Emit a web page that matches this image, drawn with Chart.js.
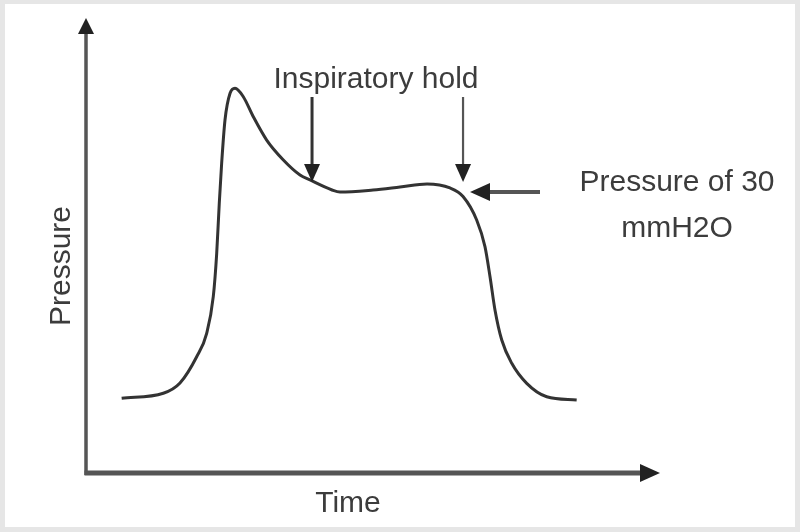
<!DOCTYPE html>
<html>
<head>
<meta charset="utf-8">
<script src="https://cdn.jsdelivr.net/npm/chart.js@4.4.1/dist/chart.umd.min.js"></script>
<style>
html,body{margin:0;padding:0;background:#fff;}
#wrap{width:800px;height:532px;position:relative;}
</style>
</head>
<body>
<div id="wrap"><canvas id="c" width="800" height="532"></canvas></div>
<script>
// Time (s) and pressure values
const timeValues = [0.374,0.811,0.986,1.161,1.266,1.335,1.371,1.398,1.423,1.458,1.511,1.563,1.650,1.755,1.895,2.070,2.245,2.350,2.581,2.664,3.011,3.294,3.577,3.818,3.955,4.098,4.185,4.238,4.290,4.361,4.466,4.623,4.833,5.147];
const pressureValues = [7.92,8.45,9.54,12.32,14.80,18.68,23.28,28.58,32.82,37.40,40.23,40.76,39.87,37.75,35.28,33.17,31.58,31.05,29.99,29.77,29.99,30.30,30.62,30.20,29.30,26.81,23.98,20.80,17.28,14.09,11.62,9.50,8.08,7.74];
const xRange = [0, 6];
const yRange = [0, 48];
const xTitle = "Time";
const yTitle = "Pressure";
const holdLabel = "Inspiratory hold";
const holdTimes = [2.371, 3.955];      // where the two hold arrows point
const plateauLabel = ["Pressure of 30", "mmH2O"];

const points = timeValues.map((t, i) => ({x: t, y: pressureValues[i]}));

const FONT = '"Liberation Sans", Arial, sans-serif';

const decor = {
  id: 'decor',
  beforeDraw(chart) {
    const ctx = chart.ctx;
    ctx.save();
    ctx.fillStyle = '#e6e6e6';
    ctx.fillRect(0, 0, chart.width, chart.height);
    ctx.fillStyle = '#ffffff';
    ctx.fillRect(5, 4, chart.width - 10, chart.height - 9);
    ctx.restore();
  },
  afterDraw(chart) {
    const ctx = chart.ctx;
    const a = chart.chartArea;
    const xs = chart.scales.x, ys = chart.scales.y;
    ctx.save();
    // axes
    ctx.strokeStyle = '#555';
    ctx.lineCap = 'butt';
    ctx.lineWidth = 3.5;
    ctx.beginPath(); ctx.moveTo(a.left, a.bottom + 2); ctx.lineTo(a.left, a.top + 12); ctx.stroke();
    ctx.lineWidth = 5;
    ctx.beginPath(); ctx.moveTo(a.left - 1.5, a.bottom); ctx.lineTo(a.right - 16, a.bottom); ctx.stroke();
    ctx.fillStyle = '#222';
    // y arrow head
    ctx.beginPath(); ctx.moveTo(a.left, a.top - 2); ctx.lineTo(a.left - 8, a.top + 14); ctx.lineTo(a.left + 8, a.top + 14); ctx.closePath(); ctx.fill();
    // x arrow head
    ctx.beginPath(); ctx.moveTo(a.right + 2, a.bottom); ctx.lineTo(a.right - 18, a.bottom - 9); ctx.lineTo(a.right - 18, a.bottom + 9); ctx.closePath(); ctx.fill();

    // axis titles
    ctx.fillStyle = '#3c3c3c';
    ctx.font = '30px ' + FONT;
    ctx.textAlign = 'center';
    ctx.textBaseline = 'alphabetic';
    ctx.fillText(xTitle, (a.left + a.right) / 2 - 24, 512);
    ctx.save();
    ctx.translate(70, 266);
    ctx.rotate(-Math.PI / 2);
    ctx.fillText(yTitle, 0, 0);
    ctx.restore();

    // inspiratory hold label and arrows
    ctx.fillText(holdLabel, 376, 88);
    const topY = 97, tipY = 182;
    holdTimes.forEach((t, i) => {
      const px = xs.getPixelForValue(t);
      ctx.strokeStyle = i === 0 ? '#333' : '#555';
      ctx.lineWidth = i === 0 ? 3 : 2.2;
      ctx.beginPath(); ctx.moveTo(px, topY); ctx.lineTo(px, tipY - 14); ctx.stroke();
      ctx.fillStyle = '#222';
      ctx.beginPath(); ctx.moveTo(px, tipY); ctx.lineTo(px - 8, tipY - 18); ctx.lineTo(px + 8, tipY - 18); ctx.closePath(); ctx.fill();
    });

    // plateau arrow and label
    const ay = ys.getPixelForValue(29.77);
    const tipX = 470, tailX = 540;
    ctx.strokeStyle = '#555';
    ctx.lineWidth = 4;
    ctx.beginPath(); ctx.moveTo(tailX, ay); ctx.lineTo(tipX + 14, ay); ctx.stroke();
    ctx.fillStyle = '#222';
    ctx.beginPath(); ctx.moveTo(tipX, ay); ctx.lineTo(tipX + 20, ay - 9); ctx.lineTo(tipX + 20, ay + 9); ctx.closePath(); ctx.fill();
    ctx.fillStyle = '#3c3c3c';
    ctx.fillText(plateauLabel[0], 677, 191);
    ctx.fillText(plateauLabel[1], 677, 237);
    ctx.restore();
  }
};

new Chart(document.getElementById('c'), {
  type: 'line',
  data: {
    datasets: [{
      data: points,
      borderColor: '#333',
      borderWidth: 3,
      pointRadius: 0,
      fill: false,
      cubicInterpolationMode: 'monotone'
    }]
  },
  options: {
    responsive: false,
    animation: false,
    layout: { padding: { left: 86, right: 142, top: 20, bottom: 59 } },
    plugins: { legend: { display: false }, tooltip: { enabled: false } },
    scales: {
      x: { type: 'linear', min: xRange[0], max: xRange[1], display: false },
      y: { type: 'linear', min: yRange[0], max: yRange[1], display: false }
    }
  },
  plugins: [decor]
});
</script>
</body>
</html>
